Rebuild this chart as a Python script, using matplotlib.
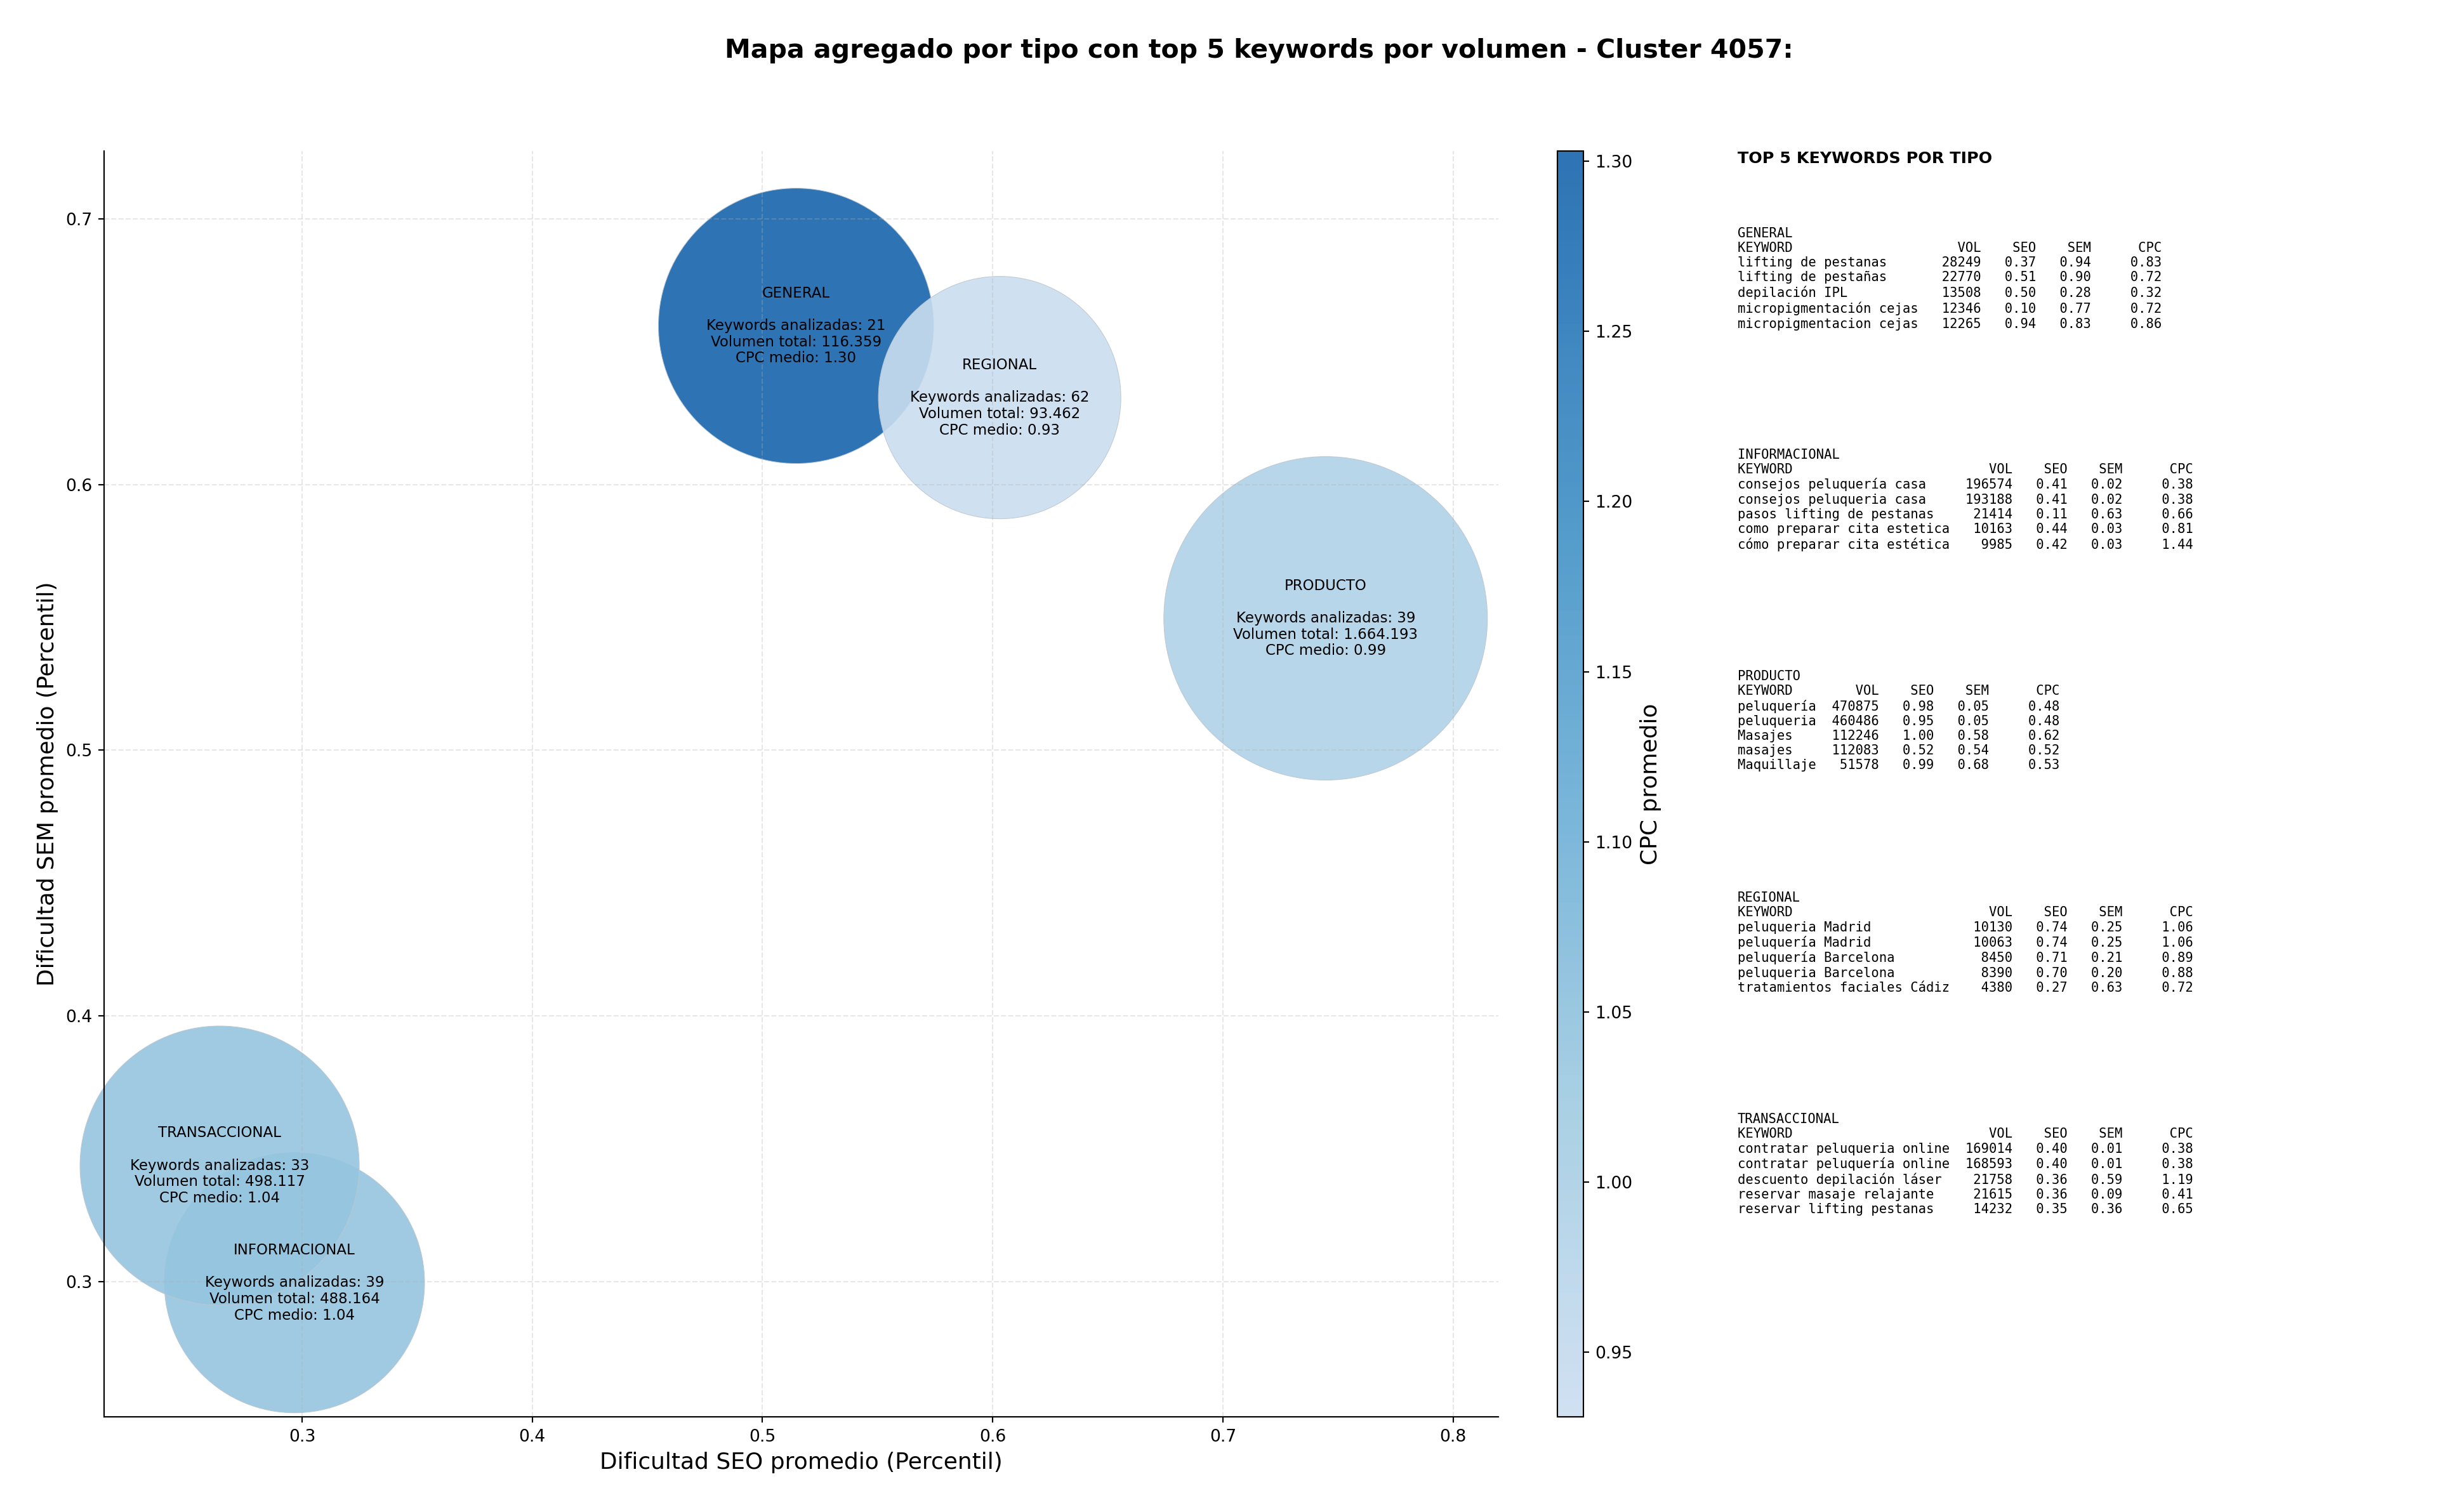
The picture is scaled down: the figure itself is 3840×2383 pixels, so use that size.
import numpy as np
import matplotlib
matplotlib.use("Agg")
import matplotlib.pyplot as plt
from matplotlib.colors import LinearSegmentedColormap, Normalize

# datos agregados por tipo (cluster 4057)
tipos = ["GENERAL", "INFORMACIONAL", "PRODUCTO", "REGIONAL", "TRANSACCIONAL"]
seo_medio = [0.5146, 0.2967, 0.7446, 0.6030, 0.2642]
sem_medio = [0.6597, 0.2995, 0.5496, 0.6327, 0.3436]
n_keywords = [21, 39, 39, 62, 33]
vol_total = [116359, 488164, 1664193, 93462, 498117]
cpc_medio = [1.303, 1.04, 0.99, 0.931, 1.04]
tam_burbuja = [26480, 23640, 36560, 20520, 27220]

# top 5 keywords por tipo: keyword, vol, seo, sem, cpc
top_general = [
    ("lifting de pestanas", 28249, 0.37, 0.94, 0.83),
    ("lifting de pestañas", 22770, 0.51, 0.90, 0.72),
    ("depilación IPL", 13508, 0.50, 0.28, 0.32),
    ("micropigmentación cejas", 12346, 0.10, 0.77, 0.72),
    ("micropigmentacion cejas", 12265, 0.94, 0.83, 0.86),
]
top_informacional = [
    ("consejos peluquería casa", 196574, 0.41, 0.02, 0.38),
    ("consejos peluqueria casa", 193188, 0.41, 0.02, 0.38),
    ("pasos lifting de pestanas", 21414, 0.11, 0.63, 0.66),
    ("como preparar cita estetica", 10163, 0.44, 0.03, 0.81),
    ("cómo preparar cita estética", 9985, 0.42, 0.03, 1.44),
]
top_producto = [
    ("peluquería", 470875, 0.98, 0.05, 0.48),
    ("peluqueria", 460486, 0.95, 0.05, 0.48),
    ("Masajes", 112246, 1.00, 0.58, 0.62),
    ("masajes", 112083, 0.52, 0.54, 0.52),
    ("Maquillaje", 51578, 0.99, 0.68, 0.53),
]
top_regional = [
    ("peluqueria Madrid", 10130, 0.74, 0.25, 1.06),
    ("peluquería Madrid", 10063, 0.74, 0.25, 1.06),
    ("peluquería Barcelona", 8450, 0.71, 0.21, 0.89),
    ("peluqueria Barcelona", 8390, 0.70, 0.20, 0.88),
    ("tratamientos faciales Cádiz", 4380, 0.27, 0.63, 0.72),
]
top_transaccional = [
    ("contratar peluqueria online", 169014, 0.40, 0.01, 0.38),
    ("contratar peluquería online", 168593, 0.40, 0.01, 0.38),
    ("descuento depilación láser", 21758, 0.36, 0.59, 1.19),
    ("reservar masaje relajante", 21615, 0.36, 0.09, 0.41),
    ("reservar lifting pestanas", 14232, 0.35, 0.36, 0.65),
]
tops = [top_general, top_informacional, top_producto, top_regional, top_transaccional]

# colormap Blues recortado
blues = plt.get_cmap("Blues")
cmap = LinearSegmentedColormap.from_list("blues_cut", blues(np.linspace(0.23, 0.80, 256)))
norm = Normalize(vmin=min(cpc_medio), vmax=max(cpc_medio))

fig = plt.figure(figsize=(20, 2383 / 192), dpi=192)
ax = fig.add_axes([0.0427, 0.0629, 0.5721, 0.8372])
cax = fig.add_axes([0.639, 0.0629, 0.0107, 0.8372])
ax_txt = fig.add_axes([0.713, 0.0629, 0.28, 0.8372])
ax_txt.axis("off")

sc = ax.scatter(seo_medio, sem_medio, s=tam_burbuja, c=cpc_medio, cmap=cmap, norm=norm,
                alpha=0.9, edgecolors="#bcc6d0", linewidths=0.4, clip_on=False)

for i, t in enumerate(tipos):
    vol_txt = f"{vol_total[i]:,}".replace(",", ".")
    etiqueta = (f"{t}\n\nKeywords analizadas: {n_keywords[i]}\n"
                f"Volumen total: {vol_txt}\nCPC medio: {cpc_medio[i]:.2f}")
    ax.text(seo_medio[i], sem_medio[i], etiqueta, ha="center", va="center",
            fontsize=8.6, linespacing=1.15)

ax.set_xlim(0.214, 0.8196)
ax.set_ylim(0.249, 0.7255)
ax.set_xlabel("Dificultad SEO promedio (Percentil)", fontsize=13.5)
ax.set_ylabel("Dificultad SEM promedio (Percentil)", fontsize=13.5)
ax.tick_params(labelsize=10)
ax.grid(True, linestyle="--", alpha=0.3)
ax.spines["top"].set_visible(False)
ax.spines["right"].set_visible(False)

cbar = fig.colorbar(sc, cax=cax)
cbar.set_label("CPC promedio", fontsize=13.5)
cbar.ax.tick_params(labelsize=10)

fig.suptitle("Mapa agregado por tipo con top 5 keywords por volumen - Cluster 4057:",
             fontsize=15.4, fontweight="bold", x=0.5166, y=0.975)

# tablas de texto a la derecha
ax_txt.text(0, 1.0, "TOP 5 KEYWORDS POR TIPO", fontsize=9.5, fontweight="bold",
            va="top", ha="left", transform=ax_txt.transAxes)
for i, (t, filas) in enumerate(zip(tipos, tops)):
    w = max(len(f[0]) for f in filas)
    lineas = [t, f"{'KEYWORD':<{w}}{'VOL':>8}{'SEO':>7}{'SEM':>7}{'CPC':>9}"]
    for kw, vol, seo, sem, cpc in filas:
        lineas.append(f"{kw:<{w}}{vol:>8}{seo:>7.2f}{sem:>7.2f}{cpc:>9.2f}")
    ax_txt.text(0, 0.94 - i * 0.175, "\n".join(lineas), fontsize=7.7, family="monospace",
                va="top", ha="left", transform=ax_txt.transAxes)

fig.savefig("out.png", dpi=192)
